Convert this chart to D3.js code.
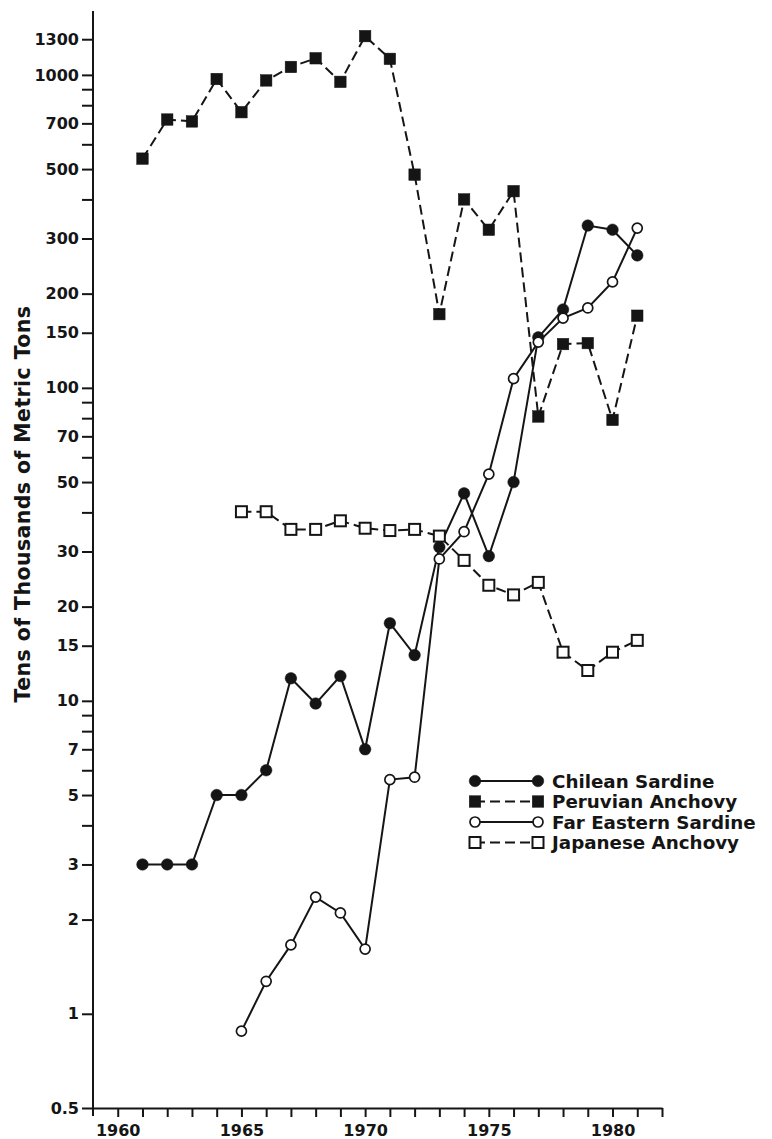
<!DOCTYPE html>
<html>
<head>
<meta charset="utf-8">
<script src="https://cdn.jsdelivr.net/npm/d3@7/dist/d3.min.js"></script>
<style>
  html, body { margin: 0; padding: 0; background: #fff; }
  svg { display: block; }
  .tick text, .lbl { font-family: "DejaVu Sans", sans-serif; font-weight: bold; fill: #151515; }
</style>
</head>
<body>
<svg id="chart" width="772" height="1139"></svg>
<script>
// Catch by species, tens of thousands of metric tons
const yearsFrom1961 = [1961,1962,1963,1964,1965,1966,1967,1968,1969,1970,1971,1972,1973,1974,1975,1976,1977,1978,1979,1980,1981];
const yearsFrom1965 = [1965,1966,1967,1968,1969,1970,1971,1972,1973,1974,1975,1976,1977,1978,1979,1980,1981];

const chileanSardine   = [3,3,3,5,5,6,11.8,9.8,12,7,17.7,14,31,46,29,50,145,178,330,320,265];
const peruvianAnchovy  = [540,720,710,970,760,960,1060,1130,950,1330,1125,480,172,400,320,425,81,138,139,79,170];
const farEasternSardine = [0.88,1.27,1.66,2.36,2.1,1.61,5.6,5.7,28.4,34.7,53,107,140,167,180,218,324];
const japaneseAnchovy  = [40.2,40.2,35.3,35.3,37.6,35.6,35,35.3,33.6,28.1,23.4,21.8,23.9,14.3,12.5,14.3,15.6];

const yMajorTicks = [0.5,1,2,3,5,7,10,15,20,30,50,70,100,150,200,300,500,700,1000,1300];
const yMinorTicks = [4,6,8,9,40,60,80,90,400,600,800,900];
const xTicks = [1960,1961,1962,1963,1964,1965,1966,1967,1968,1969,1970,1971,1972,1973,1974,1975,1976,1977,1978,1979,1980,1981,1982];
const xLabels = [1960,1965,1970,1975,1980];

const yTitle = "Tens of Thousands of Metric Tons";
const legendNames = ["Chilean Sardine","Peruvian Anchovy","Far Eastern Sardine","Japanese Anchovy"];

const INK = "#151515";
const plotLeft = 93, plotRight = 662, plotTop = 11, plotBottom = 1108;

const svg = d3.select("#chart");
const x = d3.scaleLinear().domain([1959, 1982]).range([plotLeft, plotRight]);
const y = d3.scaleLog().domain([0.5, 1600]).range([plotBottom, plotTop]);

// axes
const gx = svg.append("g").attr("transform", `translate(0,${plotBottom})`)
  .call(d3.axisBottom(x).tickValues(xTicks).tickSize(9).tickSizeOuter(0).tickPadding(8)
    .tickFormat(d => xLabels.includes(d) ? String(d) : ""));
const gy = svg.append("g").attr("transform", `translate(${plotLeft},0)`)
  .call(d3.axisLeft(y).tickValues(yMajorTicks).tickSize(11).tickPadding(3)
    .tickFormat(d => String(d)));
const gyMinor = svg.append("g").attr("transform", `translate(${plotLeft},0)`)
  .call(d3.axisLeft(y).tickValues(yMinorTicks).tickSize(11).tickFormat(""));
gy.select(".domain").remove();
gyMinor.select(".domain").remove();
svg.append("line").attr("x1", plotLeft).attr("x2", plotLeft).attr("y1", plotTop).attr("y2", plotBottom + 8)
  .attr("stroke", INK).attr("stroke-width", 2);

[gx, gy, gyMinor].forEach(g => {
  g.selectAll("path, line").attr("stroke", INK).attr("stroke-width", 2);
  g.selectAll("text").style("font-size", "16px");
});

svg.append("text").attr("class", "lbl")
  .attr("transform", `translate(23,504) rotate(-90)`)
  .attr("text-anchor", "middle").attr("dominant-baseline", "central")
  .style("font-size", "20.5px").style("letter-spacing", "0.4px")
  .text(yTitle);

// series
const series = [
  { years: yearsFrom1961, values: chileanSardine,   dash: null,  marker: "circle", fill: INK },
  { years: yearsFrom1961, values: peruvianAnchovy,  dash: "10,5", marker: "square", fill: INK },
  { years: yearsFrom1965, values: farEasternSardine, dash: null,  marker: "circle", fill: "#fff" },
  { years: yearsFrom1965, values: japaneseAnchovy,  dash: "10,5", marker: "square", fill: "#fff" }
];

const line = d3.line().x(d => x(d[0])).y(d => y(d[1]));

function drawMarker(g, s, cx, cy) {
  if (s.marker === "circle") {
    g.append("circle").attr("cx", cx).attr("cy", cy)
      .attr("r", s.fill === INK ? 5.8 : 5)
      .attr("fill", s.fill).attr("stroke", INK).attr("stroke-width", s.fill === INK ? 0.5 : 1.7);
  } else {
    const a = s.fill === INK ? 11.5 : 11;
    g.append("rect").attr("x", cx - a / 2).attr("y", cy - a / 2).attr("width", a).attr("height", a)
      .attr("fill", s.fill).attr("stroke", INK).attr("stroke-width", s.fill === INK ? 0.5 : 2);
  }
}

const linesG = svg.append("g");
const marksG = svg.append("g");
series.forEach(s => {
  const pts = s.years.map((yr, i) => [yr, s.values[i]]);
  linesG.append("path").datum(pts).attr("d", line)
    .attr("fill", "none").attr("stroke", INK).attr("stroke-width", 2)
    .attr("stroke-dasharray", s.dash);
  pts.forEach(p => drawMarker(marksG, s, x(p[0]), y(p[1])));
});

// legend
const legend = svg.append("g");
const legX0 = 475, legX1 = 538, legY0 = 781, legStep = 20.5;
series.forEach((s, i) => {
  const ly = legY0 + i * legStep;
  legend.append("line").attr("x1", legX0).attr("x2", legX1).attr("y1", ly).attr("y2", ly)
    .attr("stroke", INK).attr("stroke-width", 2).attr("stroke-dasharray", s.dash);
  drawMarker(legend, s, legX0, ly);
  drawMarker(legend, s, legX1, ly);
  legend.append("text").attr("class", "lbl").attr("x", 552).attr("y", ly)
    .attr("dominant-baseline", "central").style("font-size", "18.3px")
    .text(legendNames[i]);
});
</script>
</body>
</html>
